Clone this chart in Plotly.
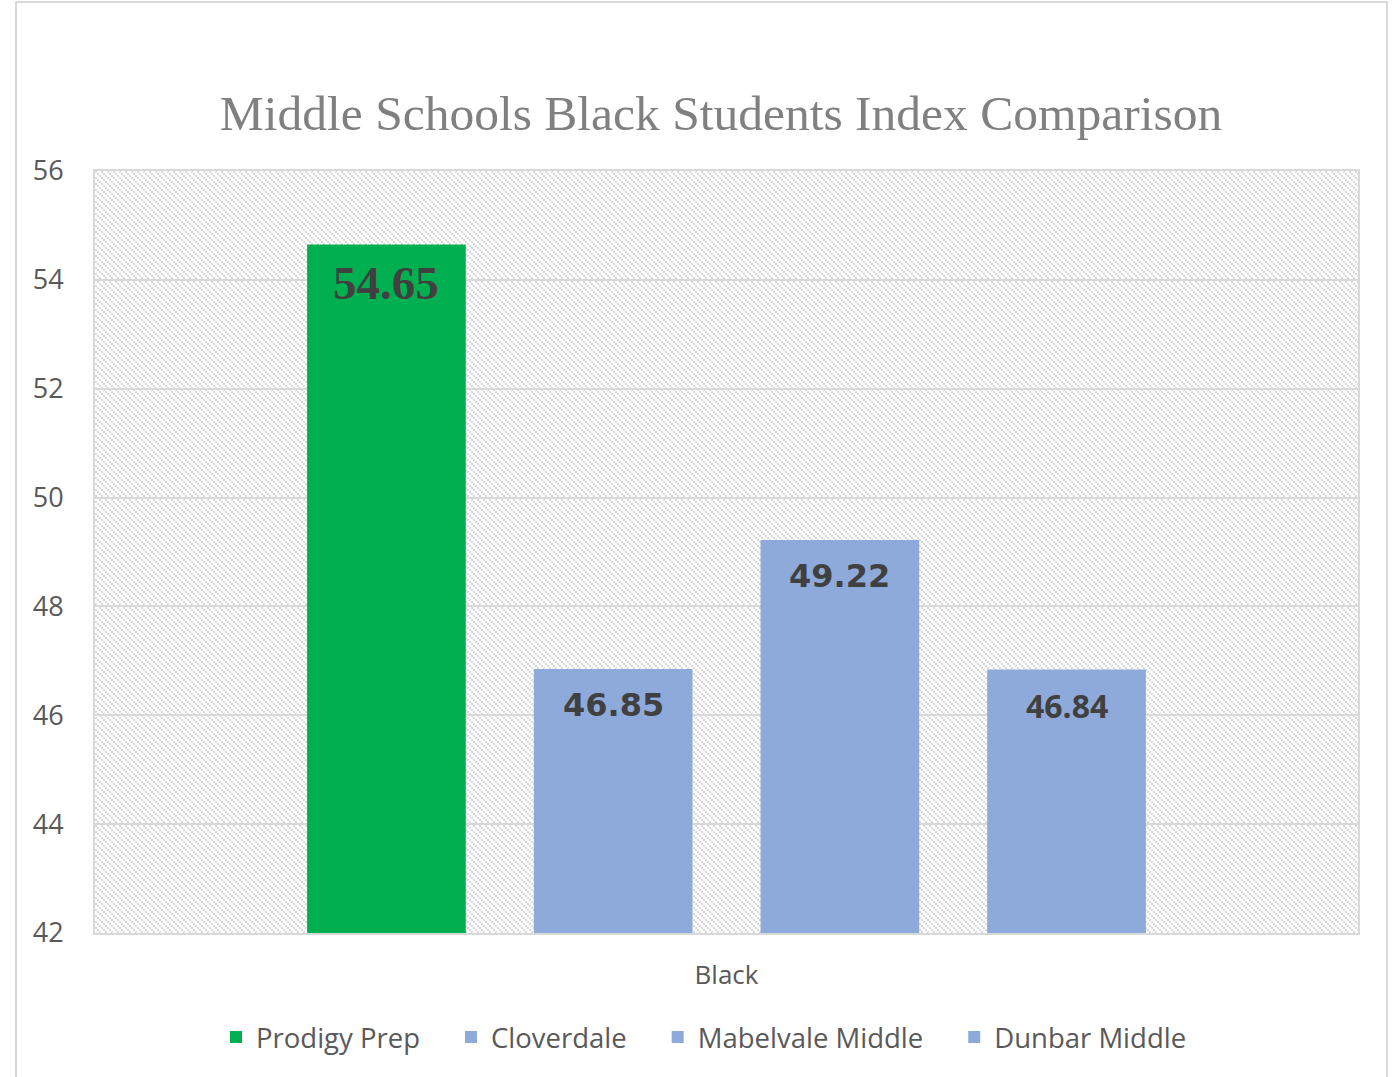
import base64
import plotly.graph_objects as go

category = ["Black"]
schools = ["Prodigy Prep", "Cloverdale", "Mabelvale Middle", "Dunbar Middle"]
values = [54.65, 46.85, 49.22, 46.84]
colors = ["#00B050", "#8EAADB", "#8EAADB", "#8EAADB"]
label_fonts = [
    dict(family="Liberation Serif", size=47, color="#404040", weight="bold"),
    dict(family="DejaVu Sans", size=32, color="#404040", weight="bold"),
    dict(family="DejaVu Sans", size=32, color="#404040", weight="bold"),
    dict(family="Open Sans", size=32, color="#404040", weight="bold"),
]
label_drop = [39, 36, 36, 36]
y_ticks = [42, 44, 46, 48, 50, 52, 54, 56]

W, H = 1393, 1077
ML, MR, MT, MB = 95, 35, 171, 144
PW, PH = W - ML - MR, H - MT - MB
BARGAP, GROUPGAP = 0.282, 0.30

fig = go.Figure()
for name, v, c in zip(schools, values, colors):
    fig.add_trace(go.Bar(
        name=name + "\u00a0\u00a0\u00a0\u2009", x=category, y=[v],
        marker=dict(color=c, line=dict(width=0)),
    ))

slot = (1 - BARGAP) * PW / len(schools)
annotations = []
for i, (v, f, d) in enumerate(zip(values, label_fonts, label_drop)):
    annotations.append(dict(
        x=category[0], y=v, xref="x", yref="y", text=f"{v:.2f}", showarrow=False,
        xshift=(i - (len(schools) - 1) / 2) * slot, yshift=-d, yanchor="middle",
        xanchor="center", font=f,
    ))

dot = '<rect x="{0}" y="{0}" width="2" height="2" fill="#DADADA" shape-rendering="crispEdges"/>'
svg = (f'<svg xmlns="http://www.w3.org/2000/svg" width="{PW}" height="{PH}">'
       '<defs><pattern id="p" width="6" height="6" patternUnits="userSpaceOnUse">'
       + dot.format(0) + dot.format(2) + dot.format(4) +
       '</pattern></defs><rect width="100%" height="100%" fill="url(#p)"/></svg>')
src = "data:image/svg+xml;base64," + base64.b64encode(svg.encode()).decode()

fig.update_layout(
    width=W, height=H,
    margin=dict(l=ML, r=MR, t=MT, b=MB),
    paper_bgcolor="white", plot_bgcolor="white",
    barmode="group", bargap=BARGAP, bargroupgap=GROUPGAP,
    title=dict(text="Middle Schools Black Students Index Comparison",
               font=dict(family="Liberation Serif", size=49.5, color="#808080"),
               xref="container", x=721 / W, xanchor="center", y=1 - 113 / H, yanchor="middle"),
    showlegend=True,
    legend=dict(orientation="h", x=(717 - ML) / PW, xanchor="center", y=(933 - 1037) / PH,
                yanchor="middle",
                font=dict(family="Open Sans", size=27.5, color="#595959"),
                traceorder="normal", itemwidth=30),
    annotations=annotations,
    images=[dict(source=src, xref="paper", yref="paper", x=0, y=1, sizex=1, sizey=1,
                 xanchor="left", yanchor="top", sizing="stretch", layer="below")],
    shapes=[dict(type="rect", xref="paper", yref="paper",
                 x0=(16 - ML) / PW, x1=(1387 - ML) / PW,
                 y0=(933 - 1100) / PH, y1=(933 - 2) / PH,
                 line=dict(color="#D9D9D9", width=2), fillcolor="rgba(0,0,0,0)", layer="below")],
)
fig.update_xaxes(
    showgrid=False, showline=True, linecolor="#D9D9D9", linewidth=2, mirror=True,
    showticklabels=False,
    title=dict(text="Black", font=dict(family="Open Sans", size=26, color="#595959"), standoff=32),
)
fig.update_yaxes(
    range=[42, 56], tickvals=y_ticks, showgrid=True, gridcolor="#D9D9D9", gridwidth=2,
    showline=True, linecolor="#D9D9D9", linewidth=2, mirror=True, zeroline=False,
    tickfont=dict(family="Open Sans", size=27, color="#595959"), ticklabelstandoff=24,
)
fig.write_html("out.html", config={"displayModeBar": False},
               post_script="document.body.style.margin='0px';")
